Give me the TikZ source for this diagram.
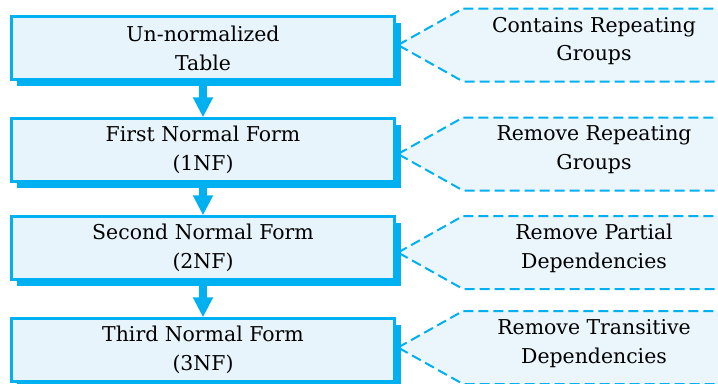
\documentclass[tikz,border=0pt]{standalone}
\usepackage{fontspec}
\setmainfont{DejaVu Serif}
\usetikzlibrary{arrows.meta,shadows}

\definecolor{edgeblue}{RGB}{0,176,240}
\definecolor{boxfill}{RGB}{232,244,252}
\definecolor{notefill}{RGB}{234,245,252}

\tikzset{
  stage/.style={
    rectangle, draw=edgeblue, line width=2.5bp, fill=boxfill,
    minimum width=383bp, minimum height=63bp, align=center,
    font=\fontsize{20.5}{29}\selectfont, text=black,
    drop shadow={shadow xshift=6bp, shadow yshift=-6bp,
                 fill=edgeblue, opacity=1}
  },
  flow/.style={
    draw=edgeblue, line width=8bp,
    -{Triangle[width=19bp,length=20bp]}, shorten <=-2bp
  },
  note/.style={
    draw=edgeblue, line width=2bp, fill=notefill,
    dash pattern=on 10bp off 5bp
  },
  notetext/.style={
    align=center, font=\fontsize{20.5}{29}\selectfont, text=black
  }
}

\begin{document}
\begin{tikzpicture}[x=1bp,y=-1bp]
  \useasboundingbox (0,0) rectangle (718,383);
  \clip (0,0) rectangle (718,383);

  % comment callouts on the right (drawn first, behind the stages)
  \foreach \cy/\lab [count=\i] in {
      45/{Contains Repeating\\Groups},
      154/{Remove Repeating\\Groups},
      252.5/{Remove Partial\\Dependencies},
      347.5/{Remove Transitive\\Dependencies}} {
    \coordinate (tip\i) at (398,\cy);
    \coordinate (ctop\i) at (463,\cy-36.5);
    \coordinate (cbot\i) at (463,\cy+36.5);
    \path[note] (tip\i) -- (ctop\i) -- (740,\cy-36.5)
                -- (740,\cy+36.5) -- (cbot\i) -- cycle;
    \node[notetext] (n\i) at (594,\cy-4) {\lab};
  }

  % normalization stages
  \node[stage] (s1) at (203,48)  {Un-normalized\\Table};
  \node[stage] (s2) at (203,150) {First Normal Form\\(1NF)};
  \node[stage] (s3) at (203,248) {Second Normal Form\\(2NF)};
  \node[stage] (s4) at (203,350) {Third Normal Form\\(3NF)};

  % arrows between stages
  \draw[flow] (s1.south) -- (s2.north);
  \draw[flow] (s2.south) -- (s3.north);
  \draw[flow] (s3.south) -- (s4.north);
\end{tikzpicture}
\end{document}
